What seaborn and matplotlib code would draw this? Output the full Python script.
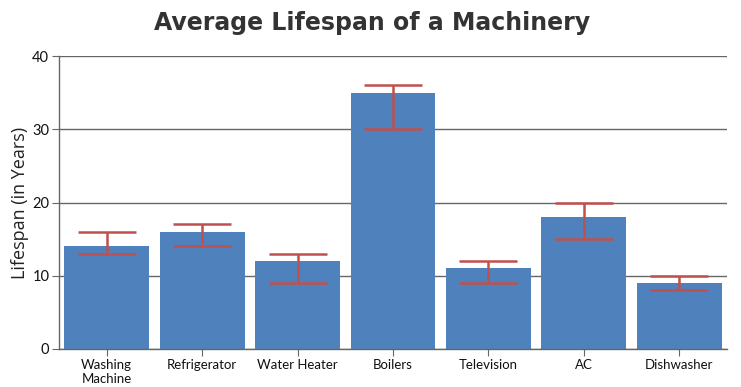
import seaborn as sns
import pandas as pd
import matplotlib.pyplot as plt
import numpy as np

categories = ["Washing\nMachine", "Refrigerator", "Water Heater", "Boilers",
              "Television", "AC", "Dishwasher"]
lifespan = [14, 16, 12, 35, 11, 18, 9]
err_low = [13, 14, 9, 30, 9, 15, 8]
err_high = [16, 17, 13, 36, 12, 20, 10]

df = pd.DataFrame({"machine": categories, "years": lifespan})

sns.set_style("white")
plt.rcParams['font.family'] = ['Lato', 'DejaVu Sans']

fig = plt.figure(figsize=(7.41, 3.87), dpi=100)
ax = fig.add_axes([59/741, 38/387, 668/741, 293/387])

sns.barplot(data=df, x="machine", y="years", color="#4F81BD", saturation=1,
            width=0.89, ax=ax, errorbar=None, linewidth=0)

pos = np.arange(len(categories))
vals = np.array(lifespan)
yerr = [vals - np.array(err_low), np.array(err_high) - vals]
ax.errorbar(pos, vals, yerr=yerr, fmt="none", ecolor="#C0504D",
            elinewidth=1.8, capsize=21, capthick=1.8, zorder=3)

ax.set_ylim(0, 40)
ax.set_xlim(-0.5, len(categories) - 0.5)
ax.set_yticks([0, 10, 20, 30, 40])
ax.yaxis.grid(True, color="#666666", linewidth=1)
ax.set_axisbelow(True)
for s in ["top", "right"]:
    ax.spines[s].set_visible(False)
for s in ["left", "bottom"]:
    ax.spines[s].set_color("#666666")
    ax.spines[s].set_linewidth(1)
ax.tick_params(axis="both", length=5, color="#666666", labelsize=9.5,
               labelcolor="#111111", pad=2, left=True, bottom=True)
ax.tick_params(axis="y", labelsize=10.5)
ax.set_xlabel("")
ax.set_ylabel("Lifespan (in Years)", fontsize=13, family=["Open Sans", "DejaVu Sans"],
              color="#222222", labelpad=2)

fig.text(0.502, 1 - 30/387, "Average Lifespan of a Machinery", ha="center", va="baseline",
         fontsize=17, fontweight="bold", family=["DejaVu Sans"], color="#333333")

fig.savefig("out.png", dpi=100)
